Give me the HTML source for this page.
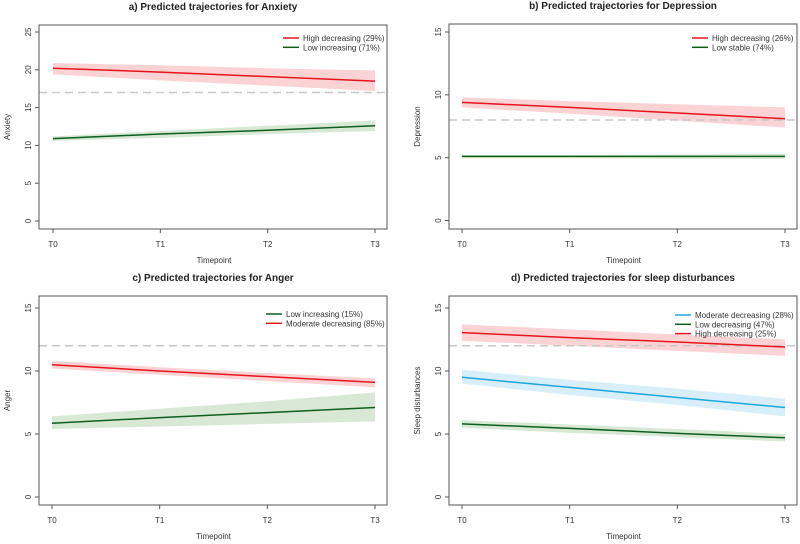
<!DOCTYPE html>
<html><head><meta charset="utf-8"><style>
html,body{margin:0;padding:0;background:#fff;}
svg{display:block;font-family:"Liberation Sans",Arial,sans-serif;}
</style></head><body>
<svg id="chart" width="800" height="544" viewBox="0 0 800 544"></svg>
<script>
const timepoints = ["T0","T1","T2","T3"];
// Panel a: Anxiety
const anxHigh = [20.2, 19.7, 19.1, 18.5];
const anxHighLo = [19.4, 18.6, 17.9, 17.2];
const anxHighHi = [20.9, 20.6, 20.2, 19.9];
const anxLow = [10.9, 11.5, 12.0, 12.6];
const anxLowLo = [10.6, 11.0, 11.5, 11.9];
const anxLowHi = [11.2, 11.9, 12.6, 13.3];
const anxTicks = [0,5,10,15,20,25];
// Panel b: Depression
const depHigh = [9.4, 9.0, 8.55, 8.1];
const depHighLo = [9.0, 8.5, 7.95, 7.4];
const depHighHi = [9.8, 9.5, 9.25, 9.0];
const depLow = [5.1, 5.1, 5.1, 5.1];
const depLowLo = [4.95, 4.95, 4.9, 4.9];
const depLowHi = [5.2, 5.2, 5.25, 5.3];
const depTicks = [0,5,10,15];
// Panel c: Anger
const angLow = [5.85, 6.3, 6.7, 7.1];
const angLowLo = [5.4, 5.6, 5.8, 6.0];
const angLowHi = [6.4, 7.0, 7.6, 8.3];
const angMod = [10.5, 10.0, 9.55, 9.1];
const angModLo = [10.2, 9.7, 9.2, 8.7];
const angModHi = [10.8, 10.3, 9.85, 9.4];
const angTicks = [0,5,10,15];
// Panel d: Sleep disturbances
const slpMod = [9.5, 8.7, 7.9, 7.1];
const slpModLo = [9.0, 8.1, 7.3, 6.4];
const slpModHi = [10.1, 9.3, 8.6, 7.8];
const slpLow = [5.8, 5.45, 5.05, 4.7];
const slpLowLo = [5.5, 5.1, 4.75, 4.4];
const slpLowHi = [6.1, 5.75, 5.4, 5.0];
const slpHigh = [13.05, 12.65, 12.3, 11.9];
const slpHighLo = [12.4, 12.0, 11.6, 11.2];
const slpHighHi = [13.7, 13.3, 12.9, 12.5];
const slpTicks = [0,5,10,15];

const RED="#e8141c", GREEN="#0e5e1e", BLUE="#1aa7e0";
const RB="#fbd3d5", GB="#d7e9d4", BB="#d8effb";
const NS="http://www.w3.org/2000/svg";
const svg=document.getElementById("chart");
function mk(tag,attrs,parent){const e=document.createElementNS(NS,tag);for(const k in attrs)e.setAttribute(k,attrs[k]);(parent||svg).appendChild(e);return e;}

const panels=[
 {id:"a",title:"a) Predicted trajectories for Anxiety",ylab:"Anxiety",box:[39,25,387,229],ymax:25,yTop:32,yBot:221,x0:53,x3:375,ticks:anxTicks,dash:17,
  legend:{lx:283,ly:38},
  series:[{n:"High decreasing (29%)",c:RED,b:RB,v:anxHigh,lo:anxHighLo,hi:anxHighHi},{n:"Low increasing (71%)",c:GREEN,b:GB,v:anxLow,lo:anxLowLo,hi:anxLowHi}]},
 {id:"b",title:"b) Predicted trajectories for Depression",ylab:"Depression",box:[449,24,797,229],ymax:15,yTop:32,yBot:220.5,x0:462,x3:785,ticks:depTicks,dash:8,
  legend:{lx:692,ly:38},
  series:[{n:"High decreasing (26%)",c:RED,b:RB,v:depHigh,lo:depHighLo,hi:depHighHi},{n:"Low stable (74%)",c:GREEN,b:GB,v:depLow,lo:depLowLo,hi:depLowHi}]},
 {id:"c",title:"c) Predicted trajectories for Anger",ylab:"Anger",box:[39,296,387,505],ymax:15,yTop:308,yBot:497,x0:52,x3:375,ticks:angTicks,dash:12,
  legend:{lx:266,ly:314},
  series:[{n:"Low increasing (15%)",c:GREEN,b:GB,v:angLow,lo:angLowLo,hi:angLowHi},{n:"Moderate decreasing (85%)",c:RED,b:RB,v:angMod,lo:angModLo,hi:angModHi}]},
 {id:"d",title:"d) Predicted trajectories for sleep disturbances",ylab:"Sleep disturbances",box:[449,296,797,505],ymax:15,yTop:308,yBot:497,x0:462,x3:785,ticks:slpTicks,dash:12,
  legend:{lx:675,ly:315},
  series:[{n:"Moderate decreasing (28%)",c:BLUE,b:BB,v:slpMod,lo:slpModLo,hi:slpModHi},{n:"Low decreasing (47%)",c:GREEN,b:GB,v:slpLow,lo:slpLowLo,hi:slpLowHi},{n:"High decreasing (25%)",c:RED,b:RB,v:slpHigh,lo:slpHighLo,hi:slpHighHi}]}
];

panels.forEach(p=>{
  const g=mk("g",{});
  
  
  const [bx0,by0,bx1,by1]=p.box;
  const X=i=>p.x0+(p.x3-p.x0)*i/(timepoints.length-1);
  const Y=v=>p.yBot-(p.yBot-p.yTop)*v/p.ymax;
  const cx=(bx0+bx1)/2;
  const t=mk("text",{x:cx,y:by0-15,"text-anchor":"middle","font-size":"10","font-weight":"bold",fill:"#222"},g);
  t.textContent=p.title;
  
  
  // bands
  p.series.forEach((s,si)=>{
    let d="";
    s.hi.forEach((v,i)=>{d+=(i?"L":"M")+X(i)+","+Y(v);});
    for(let i=s.lo.length-1;i>=0;i--)d+="L"+X(i)+","+Y(s.lo[i]);
    const band=mk("path",{d:d+"Z",fill:s.b},g);
    
    
  });
  const dl=mk("line",{x1:bx0,x2:bx1,y1:Y(p.dash),y2:Y(p.dash),stroke:"#c8c8c8","stroke-width":"1.5","stroke-dasharray":"8,5"},g);
  
  
  p.series.forEach(s=>{
    const pts=s.v.map((v,i)=>X(i)+","+Y(v)).join(" ");
    const pl=mk("polyline",{points:pts,fill:"none",stroke:s.c,"stroke-width":"1.5"},g);
    
    
  });
  const box=mk("rect",{x:bx0,y:by0,width:bx1-bx0,height:by1-by0,fill:"none",stroke:"#555","stroke-width":"1"},g);
  
  
  // y ticks
  p.ticks.forEach(v=>{
    mk("line",{x1:bx0,x2:bx0-4,y1:Y(v),y2:Y(v),stroke:"#555"},g);
    const tx=mk("text",{x:bx0-8,y:Y(v),"font-size":"8",fill:"#333","text-anchor":"middle",transform:`rotate(-90 ${bx0-8} ${Y(v)})`},g);
    tx.textContent=v;
    
    
  });
  timepoints.forEach((tp,i)=>{
    mk("line",{x1:X(i),x2:X(i),y1:by1,y2:by1+4,stroke:"#555"},g);
    const tx=mk("text",{x:X(i),y:by1+18,"font-size":"8",fill:"#333","text-anchor":"middle"},g);
    tx.textContent=tp;
    
    
  });
  const xl=mk("text",{x:(p.x0+p.x3)/2,y:by1+34,"font-size":"8",fill:"#333","text-anchor":"middle"},g);
  xl.textContent="Timepoint";
  
  
  const ylx=bx0-29, yly=(by0+by1)/2;
  const yl=mk("text",{x:ylx,y:yly,"font-size":"8",fill:"#333","text-anchor":"middle",transform:`rotate(-90 ${ylx} ${yly})`},g);
  yl.textContent=p.ylab;
  
  
  p.series.forEach((s,i)=>{
    const ly=p.legend.ly+i*9.3;
    const le=mk("g",{},g);
    
    
    mk("line",{x1:p.legend.lx,x2:p.legend.lx+16,y1:ly,y2:ly,stroke:s.c,"stroke-width":"1.5"},le);
    const lt=mk("text",{x:p.legend.lx+20,y:ly+3,"font-size":"8",fill:"#333"},le);
    lt.textContent=s.n;
  });
});
</script>
</body></html>
